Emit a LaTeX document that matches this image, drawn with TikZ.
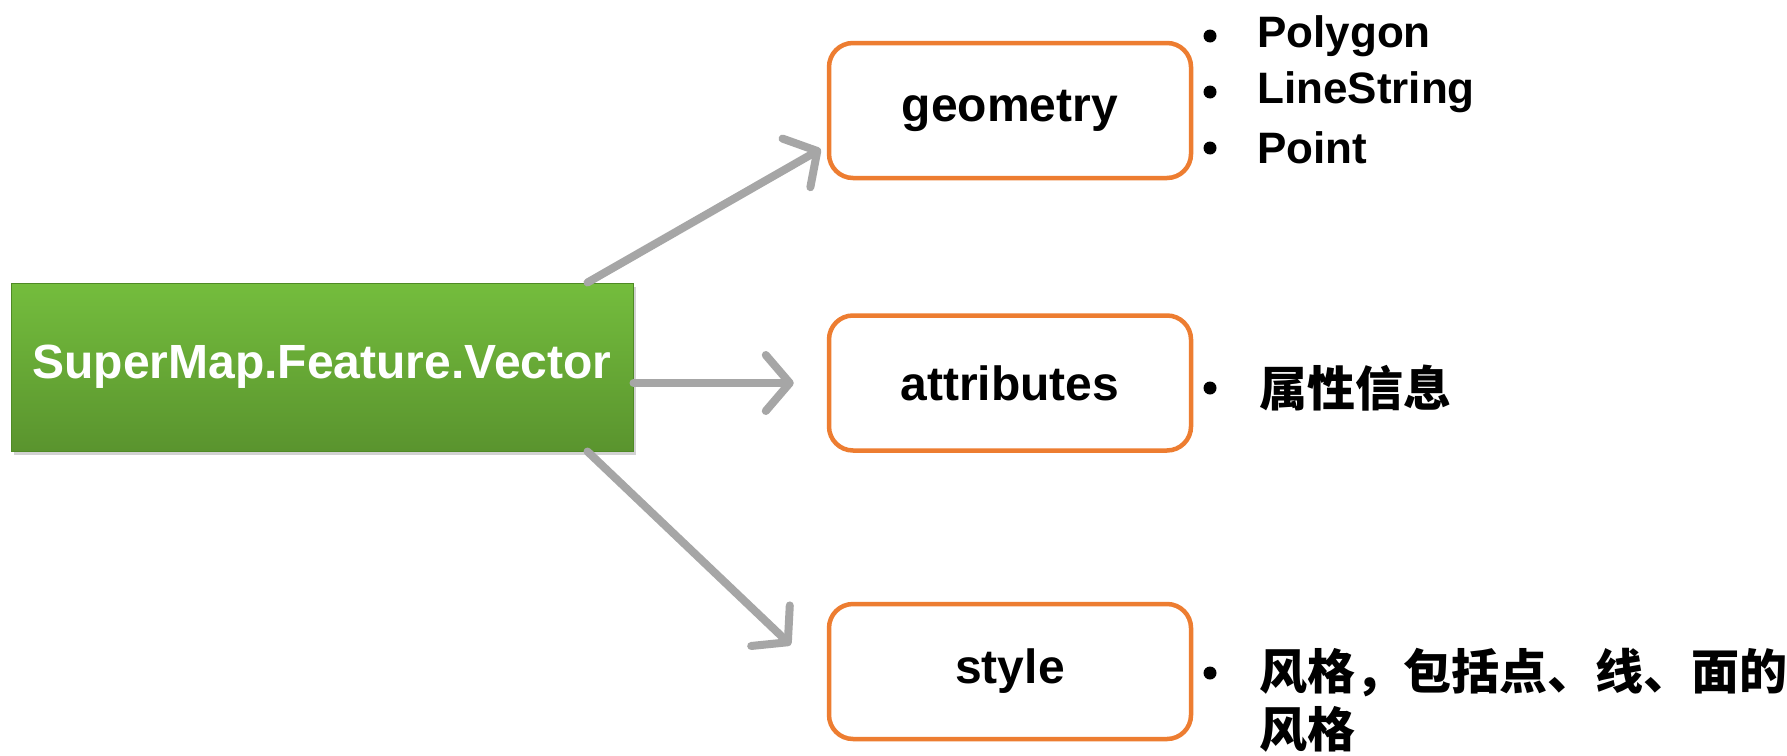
\documentclass[tikz,border=0pt]{standalone}
\usepackage{fontspec}
\setmainfont{Liberation Sans}
\newfontfamily\cjk{Noto Sans CJK SC}
\usetikzlibrary{arrows.meta,shadows}
\definecolor{boxorange}{HTML}{ED7D31}
\definecolor{arrowgray}{HTML}{A6A6A6}
\definecolor{greentop}{HTML}{74BD3D}
\definecolor{greenbot}{HTML}{5A942E}
\definecolor{greenedge}{HTML}{4F8A25}
\begin{document}
\begin{tikzpicture}[x=1pt,y=-1pt,
  mainbox/.style={draw=greenedge, line width=1pt, top color=greentop, bottom color=greenbot,
    minimum width=622pt, minimum height=168pt, inner sep=0pt,
    text=white, font=\bfseries\fontsize{48}{56}\selectfont,
    drop shadow={shadow xshift=3pt, shadow yshift=-4pt, opacity=0.35}},
  featbox/.style={draw=boxorange, line width=4.5pt, rounded corners=24pt, fill=white,
    minimum width=362pt, minimum height=135pt, inner sep=0pt,
    font=\bfseries\fontsize{48}{58}\selectfont},
  conn/.style={draw=arrowgray, line width=8pt, line cap=round,
    -{Straight Barb[length=24pt,width=56pt,line cap=round,line join=round]}},
  dot/.style={circle, fill=black, inner sep=0pt, minimum size=13pt},
  item/.style={anchor=west, inner sep=0pt, font=\bfseries\fontsize{44}{50}\selectfont},
  cjkitem/.style={anchor=west, inner sep=0pt, font=\cjk\bfseries\fontsize{48}{56}\selectfont}
]
\path[fill=white] (0,0) rectangle (1787,755);
\useasboundingbox (0,0) rectangle (1787,755);

\node[mainbox] (vec) at (322,367) {SuperMap.Feature.Vector};
\node[featbox] (geo) at (1010,110.5) {geometry};
\node[featbox] (attr) at (1010,383) {attributes};
\node[featbox] (sty) at (1010,671.5) {style};

\draw[conn] ([xshift=-46pt]vec.north east) -- ([xshift=-6pt,yshift=-38.5pt]geo.west);
\draw[conn] (vec.east |- attr.west) -- ([xshift=-33pt]attr.west);
\draw[conn] ([xshift=-46pt]vec.south east) -- ([xshift=-36pt,yshift=26.5pt]sty.west);

\node[dot] (b1) at (1210,36) {};
\node[dot] (b2) at (1210,92) {};
\node[dot] (b3) at (1210,148) {};
\node[item] (t1) at (1257,36) {Polygon};
\node[item] (t2) at (1257,92) {LineString};
\node[item] (t3) at (1257,148) {Point};

\node[dot] (b4) at (1210,388) {};
\node[cjkitem] (t4) at (1259,388) {属性信息};

\node[dot] (b5) at (1210,673) {};
\node[cjkitem] (t5) at (1259,673) {\makebox[519pt][s]{风\hfil 格\hfil ，\hfil 包\hfil 括\hfil 点\hfil 、\hfil 线\hfil 、\hfil 面\hfil 的}};
\node[cjkitem] (t6) at (1259,729) {风格};
\end{tikzpicture}
\end{document}
